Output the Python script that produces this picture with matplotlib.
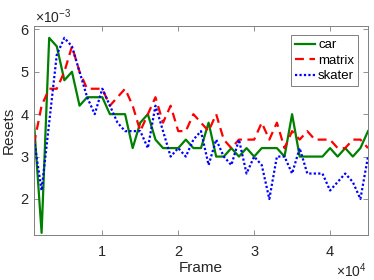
import matplotlib
matplotlib.use("Agg")
from matplotlib import pyplot as plt
import numpy as np

plt.rcParams['font.family'] = ['Liberation Sans', 'DejaVu Sans']
plt.rcParams['mathtext.fontset'] = 'custom'
plt.rcParams['mathtext.rm'] = 'Liberation Sans'

# frame numbers (x) and resets per frame, in units of 1e-3
frames = list(range(1000, 46000, 1000))
car = [3.8, 1.2, 5.8, 5.6, 4.8, 5.0, 4.2, 4.4, 4.4, 4.4,
       4.0, 4.0, 4.0, 3.2, 3.8, 4.0, 3.4, 3.2, 3.2, 3.2,
       3.4, 3.2, 3.2, 3.8, 3.0, 3.0, 3.2, 3.0, 3.2, 3.0,
       3.2, 3.2, 3.2, 3.0, 4.0, 3.0, 3.0, 3.0, 3.0, 3.2,
       3.0, 3.2, 3.0, 3.2, 3.6]
matrix = [3.3, 4.2, 4.6, 4.6, 5.0, 5.6, 5.0, 4.6, 4.6, 4.6,
          4.2, 4.4, 4.6, 4.2, 3.6, 4.0, 4.4, 3.8, 4.2, 3.6,
          3.6, 4.0, 3.8, 3.6, 4.0, 3.4, 3.2, 3.4, 3.4, 3.4,
          3.8, 3.4, 3.8, 3.2, 3.6, 3.4, 3.6, 3.4, 3.4, 3.4,
          3.2, 3.2, 3.4, 3.4, 3.2]
skater = [3.4, 2.2, 3.8, 5.4, 5.8, 5.6, 5.0, 4.4, 4.0, 4.6,
          4.2, 3.8, 3.6, 3.6, 3.6, 3.2, 4.2, 3.6, 3.0, 3.2,
          3.0, 3.4, 3.6, 2.8, 3.4, 3.0, 2.8, 3.4, 2.6, 3.0,
          2.8, 2.0, 3.0, 3.0, 2.6, 3.2, 2.6, 2.6, 2.6, 2.2,
          2.4, 2.6, 2.4, 2.0, 3.0]

fig = plt.figure(figsize=(3.74, 2.8), dpi=100)
ax = fig.add_axes([34/374, 1-235/280, 334/374, 209/280])

ax.plot(frames, car, color='#008000', lw=1.6, label='car')
ax.plot(frames, matrix, color='#ff0000', lw=1.6, ls=(0, (4, 2.5)), label='matrix')
ax.plot(frames, skater, color='#0000ff', lw=1.6, ls=(0, (1, 1)), label='skater')

ax.set_xlim(1000, 45000)
ax.set_ylim(1.15, 6.08)
ax.set_xticks([10000, 20000, 30000, 40000])
ax.set_xticklabels(['1', '2', '3', '4'])
ax.set_yticks([2, 3, 4, 5, 6])
ax.tick_params(direction='in', top=True, right=True, length=3.5, width=0.6,
               colors='#262626', labelsize=10.5, color='#808080')
ax.tick_params(axis='x', pad=7)
ax.tick_params(axis='y', pad=4)
for s in ax.spines.values():
    s.set_color('#808080')
    s.set_linewidth(0.7)

ax.set_xlabel('Frame', fontsize=11, color='#262626', labelpad=2)
ax.set_ylabel('Resets', fontsize=11, color='#262626', labelpad=3)

fig.text(35/374, 1-23/280, r'$\times10^{-3}$', fontsize=10, color='#262626',
         ha='left', va='baseline')
fig.text(367/374, 1-277/280, r'$\times10^{4}$', fontsize=10, color='#262626',
         ha='right', va='baseline')

leg = ax.legend(loc='upper right', bbox_to_anchor=(0.97, 0.957), borderaxespad=0,
                fontsize=9.5, fancybox=False, framealpha=1, edgecolor='#808080',
                handlelength=1.5, handletextpad=0.25, labelspacing=0.25,
                borderpad=0.3)
leg.get_frame().set_linewidth(0.7)

plt.savefig('out.png', dpi=100)
